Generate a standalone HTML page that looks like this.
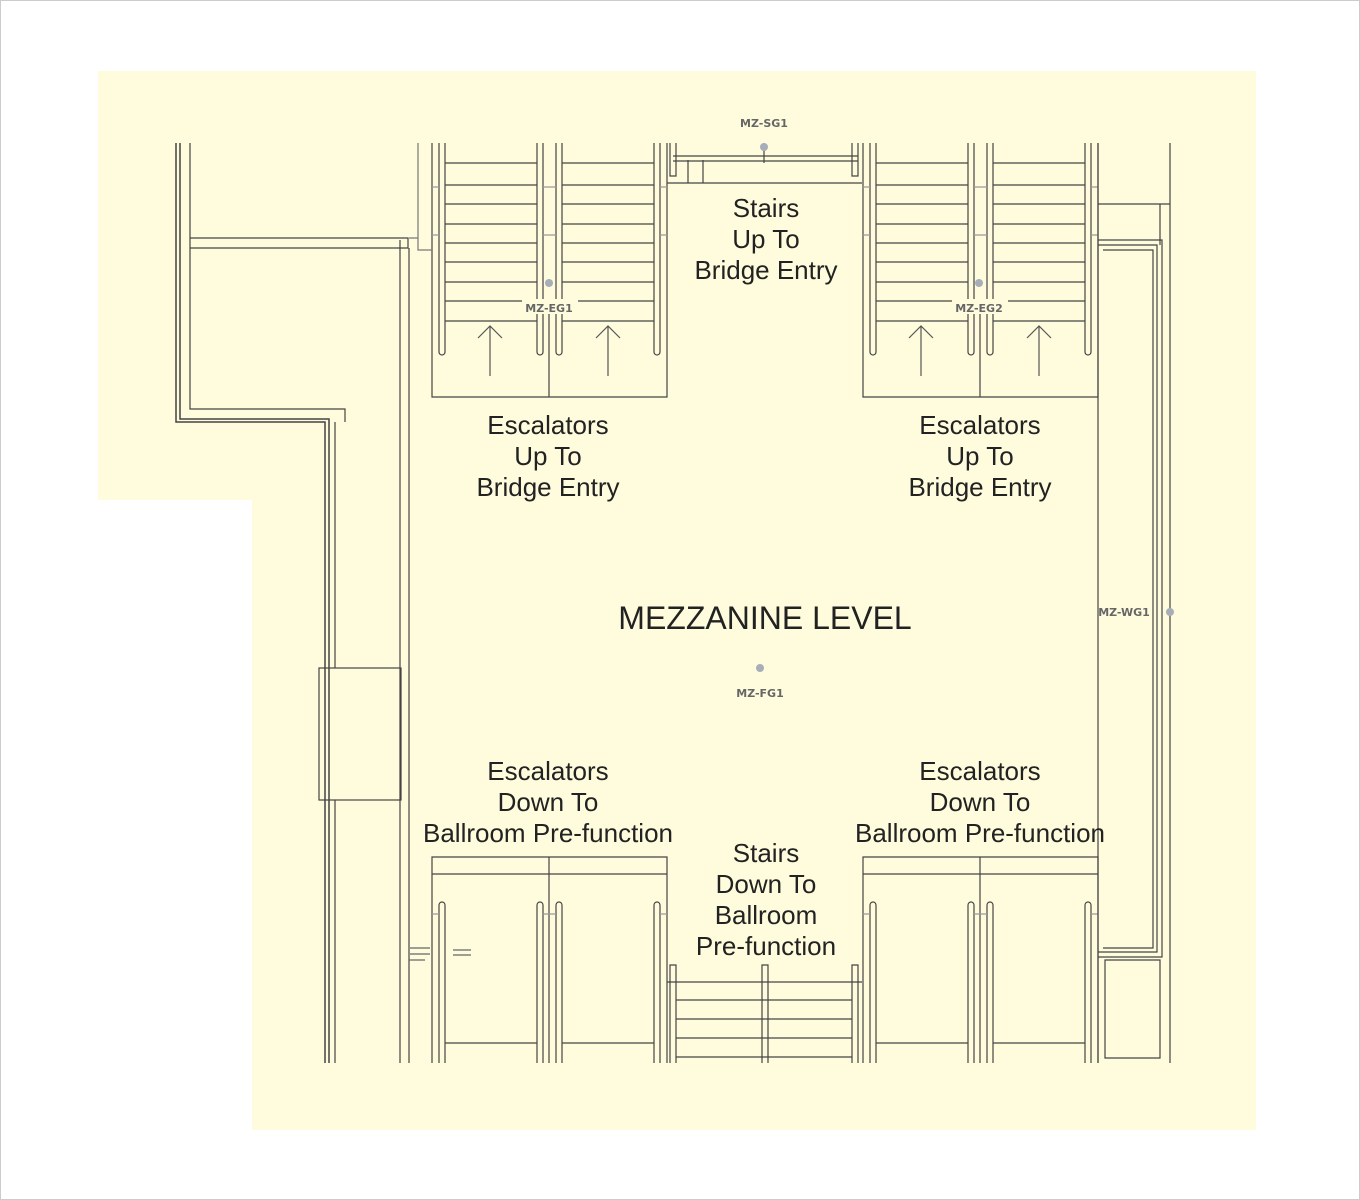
<!DOCTYPE html>
<html><head><meta charset="utf-8"><style>
html,body{margin:0;padding:0;background:#fff}
svg{display:block}
.t{font-family:"Liberation Sans",Arial,sans-serif;font-size:26px;fill:#222;text-anchor:middle}
.l{font-family:"DejaVu Sans","Liberation Sans",sans-serif;font-size:11px;font-weight:bold;fill:#666;text-anchor:middle}
</style></head><body>
<svg width="1360" height="1200" viewBox="0 0 1360 1200" xmlns="http://www.w3.org/2000/svg">
<rect x="0.5" y="0.5" width="1359" height="1199" fill="#fff" stroke="#ccc"/>
<path d="M98 71H1256V1130H252V500H98Z" fill="#fefcdc"/>
<defs>
<g id="escUp" fill="none" stroke="#444" stroke-width="1.2">
  <path d="M432 143V397H667V143M549 310V397"/>
  <path d="M439 143V352a3 3 0 0 0 6 0V143M537 143V352a3 3 0 0 0 6 0V143M556 143V352a3 3 0 0 0 6 0V143M654 143V352a3 3 0 0 0 6 0V143"/>
  <path d="M445 163H537M445 185H537M445 204H537M445 224H537M445 243H537M445 262H537M445 282H537M445 301H537M445 321H537"/>
  <path d="M562 163H654M562 185H654M562 204H654M562 224H654M562 243H654M562 262H654M562 282H654M562 301H654M562 321H654"/>
  <path d="M490 376V326M478 338L490 326L502 338M608 376V326M596 338L608 326L620 338" stroke="#555"/>
  <path d="M432 187H439M432 235H439M543 187H556M543 235H556M660 187H667M660 235H667" stroke="#999"/>
</g>
<g id="escDn" fill="none" stroke="#444" stroke-width="1.2">
  <path d="M432 1063V857H667V1063M549 857V1063M432 874H667"/>
  <path d="M439 1063V905a3 3 0 0 1 6 0V1063M537 1063V905a3 3 0 0 1 6 0V1063M556 1063V905a3 3 0 0 1 6 0V1063M654 1063V905a3 3 0 0 1 6 0V1063"/>
  <path d="M445 1043H537M562 1043H654"/>
  <path d="M432 914H439M543 914H556M660 914H667" stroke="#999"/>
</g>
</defs>
<use href="#escUp"/>
<use href="#escUp" x="431"/>
<use href="#escDn"/>
<use href="#escDn" x="431"/>
<g fill="none" stroke="#444" stroke-width="1.2">
  <path d="M176 143V422H325V1063M180 143V419H329V1063" stroke-width="1.5"/>
  <path d="M190 143V409H345V422M335 422V668M335 800V1063"/>
  <path d="M190 238H408V248H190M400 240V1063M409 248V1063"/>
  <rect x="319" y="668" width="82" height="132"/>
  <path d="M409 238H418V250H432M418 238V143" stroke="#777"/>
  <path d="M410 948H430M410 954H430M453 950H471M453 955H471M409 960H425" stroke="#666"/>
  <path d="M670 143V176H676V143M673 156H858M673 161H858M667 183H862M688 160V183M703 160V183M852 143V176H858V143M764 143V163"/>
  <path d="M670 1063V965H676V1063M852 1063V965H858V1063M762 1063V965H768V1063M667 982H862M676 1000H852M676 1019H852M676 1038H852M676 1057H852"/>
  <path d="M1098 143V1063M1170 143V1063M1098 204H1170M1160 204V245M1098 240H1162V957H1098M1098 245H1157V952H1098M1103 250H1153V948H1103M1105 960H1160V1058H1105Z"/>
</g>
<g fill="#a8aeb8">
  <circle cx="764" cy="147" r="4"/><circle cx="549" cy="283" r="4"/><circle cx="979" cy="283" r="4"/>
  <circle cx="1170" cy="612" r="4"/><circle cx="760" cy="668" r="4"/>
</g>
<rect x="522" y="299" width="56" height="15" fill="#fefcdc"/>
<rect x="952" y="299" width="56" height="15" fill="#fefcdc"/>
<text class="l" x="764" y="127">MZ-SG1</text>
<text class="l" x="549" y="312">MZ-EG1</text>
<text class="l" x="979" y="312">MZ-EG2</text>
<text class="l" x="1124" y="616">MZ-WG1</text>
<text class="l" x="760" y="697">MZ-FG1</text>
<text class="t" x="766" y="217">Stairs</text><text class="t" x="766" y="248">Up To</text><text class="t" x="766" y="279">Bridge Entry</text>
<text class="t" x="548" y="434">Escalators</text><text class="t" x="548" y="465">Up To</text><text class="t" x="548" y="496">Bridge Entry</text>
<text class="t" x="980" y="434">Escalators</text><text class="t" x="980" y="465">Up To</text><text class="t" x="980" y="496">Bridge Entry</text>
<text class="t" x="765" y="629" style="font-size:32px">MEZZANINE LEVEL</text>
<text class="t" x="548" y="780">Escalators</text><text class="t" x="548" y="811">Down To</text><text class="t" x="548" y="842">Ballroom Pre-function</text>
<text class="t" x="980" y="780">Escalators</text><text class="t" x="980" y="811">Down To</text><text class="t" x="980" y="842">Ballroom Pre-function</text>
<text class="t" x="766" y="862">Stairs</text><text class="t" x="766" y="893">Down To</text><text class="t" x="766" y="924">Ballroom</text><text class="t" x="766" y="955">Pre-function</text>
</svg>
</body></html>
